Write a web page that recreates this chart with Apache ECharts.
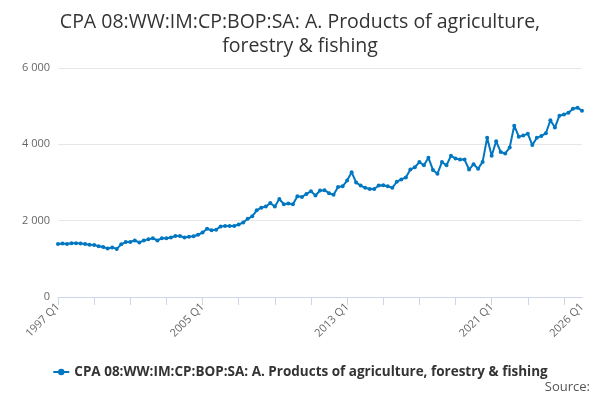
<!DOCTYPE html>
<html>
<head>
<meta charset="utf-8">
<script src="https://cdn.jsdelivr.net/npm/echarts@6/dist/echarts.min.js"></script>
<style>html,body{margin:0;padding:0;background:#fff}#c{width:600px;height:400px}</style>
</head>
<body>
<div id="c"></div>
<script>
// quarterly values 1997 Q1 .. 2026 Q1
var values = [
  1390,1400,1390,1410,1410,1405,1390,1370,1365,1330,1310,1270,1300,1260,1380,1440,
  1440,1480,1430,1480,1510,1540,1480,1540,1540,1560,1600,1600,1560,1580,1590,1630,
  1690,1790,1750,1760,1850,1860,1860,1860,1900,1950,2050,2114,2270,2340,2370,2460,
  2370,2567,2430,2450,2430,2640,2620,2700,2770,2660,2790,2800,2720,2680,2880,2900,
  3050,3270,3000,2920,2860,2830,2830,2920,2930,2900,2860,3020,3080,3130,3340,3400,
  3536,3450,3650,3330,3230,3536,3450,3700,3630,3600,3600,3340,3480,3360,3540,4170,
  3700,4080,3800,3760,3920,4490,4200,4230,4280,3980,4170,4220,4290,4630,4440,4750,
  4780,4830,4930,4960,4880
];
var categories = [];
for (var y = 1997; y <= 2026; y++) {
  for (var q = 1; q <= 4; q++) {
    if (categories.length < values.length) categories.push(y + ' Q' + q);
  }
}
var shownLabels = ['1997 Q1','2005 Q1','2013 Q1','2021 Q1','2026 Q1'];
var seriesName = 'CPA 08:WW:IM:CP:BOP:SA: A. Products of agriculture, forestry & fishing';

var chart = echarts.init(document.getElementById('c'));
chart.setOption({
  animation: false,
  title: {
    text: 'CPA 08:WW:IM:CP:BOP:SA: A. Products of agriculture,\nforestry & fishing',
    left: 'center', top: 5,
    textStyle: {fontFamily: 'Open Sans', fontSize: 19.5, fontWeight: 'normal', color: '#333', lineHeight: 24}
  },
  graphic: [{type: 'text', right: 10, top: 381,
    style: {text: 'Source:', fontFamily: 'Open Sans', fontSize: 13, fill: '#555'}}],
  legend: {
    bottom: 16, left: 'center',
    itemWidth: 16, itemHeight: 8,
    textStyle: {fontFamily: 'Open Sans', fontSize: 13.5, fontWeight: 'bold', color: '#333'},
    data: [seriesName]
  },
  grid: {left: 58, right: 18, top: 68, bottom: 103},
  xAxis: {
    type: 'category', data: categories, boundaryGap: false,
    axisLine: {lineStyle: {color: '#ccd6eb'}},
    axisTick: {interval: 7, lineStyle: {color: '#ccd6eb'}, length: 8},
    axisLabel: {
      rotate: 45, fontFamily: 'Open Sans', fontSize: 11, color: '#666',
      interval: function (i, v) { return shownLabels.indexOf(v) >= 0; }
    }
  },
  yAxis: {
    type: 'value', min: 0, max: 6000, interval: 2000,
    axisLabel: {fontFamily: 'Open Sans', fontSize: 11, color: '#666',
      formatter: function (v) { return String(v).replace(/\B(?=(\d{3})+(?!\d))/g, ' '); }},
    splitLine: {lineStyle: {color: '#e6e6e6'}}
  },
  series: [{
    name: seriesName, type: 'line', data: values,
    color: '#0077c0',
    symbol: 'circle', symbolSize: 4, showSymbol: true, showAllSymbol: true,
    lineStyle: {width: 2}
  }]
});
</script>
</body>
</html>
